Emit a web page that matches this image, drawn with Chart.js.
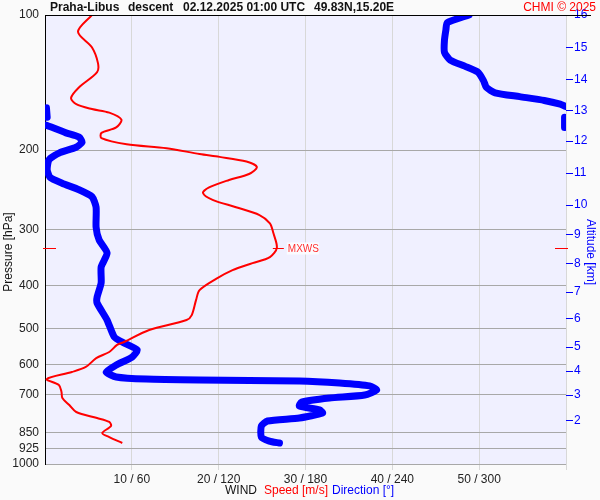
<!DOCTYPE html>
<html>
<head>
<meta charset="utf-8">
<script src="https://cdn.jsdelivr.net/npm/chart.js@4.4.1/dist/chart.umd.min.js"></script>
<style>
    html, body { margin: 0; padding: 0; background: #fafafa; }
</style>
</head>
<body>
<canvas id="windProfile" width="600" height="500"></canvas>
<script>
// wind speed profile (m/s) against pressure (hPa)
const speedPressure = [100, 109, 118, 128, 134, 145, 153, 158, 162, 165, 171, 178, 183, 188, 194, 198, 204, 207, 212, 218,
    226, 233, 242, 249, 258, 268, 279, 291, 306, 330, 346, 357, 370, 387, 410, 431, 466, 478, 503, 535,
    543, 563, 581, 608, 624, 647, 667, 691, 713, 739, 766, 790, 806, 823, 853, 871, 898];
const speedValues = [5.4, 3.8, 5.4, 6.1, 6.0, 3.9, 3.0, 3.6, 5.4, 7.4, 8.8, 8.2, 6.5, 6.5, 9.4, 14.0, 17.8, 20.1, 23.2, 24.4,
    23.5, 21.2, 18.9, 18.2, 19.3, 22.0, 24.7, 25.9, 26.3, 26.7, 25.9, 23.9, 21.6, 19.7, 17.8, 17.4, 16.9, 16.3, 12.0, 9.1,
    8.3, 7.4, 5.9, 4.7, 3.1, 0.2, 1.6, 1.9, 2.0, 2.8, 3.6, 6.0, 7.4, 7.6, 6.6, 7.4, 8.9];

// wind direction profile (deg), null = break where it wraps 360 -> 0
const dirPressure = [100, 104, 108, 114, 121, 126, 130, 134, 140, 145, 149, 152, 155, 158, 160, null,
    161, 169, null,
    169, 178, null,
    176, 183, 187, 192, 197, 203, 210, 221, 230, 237, 245, 254, 268, 297, 317, 339, 364, 395, 425, 438,
    478, 521, 535, 557, 578, 602, 624, 640, 647, 650, 653, 660, 670, 684, 702, 713, 728, 743, 758, 770,
    790, 802, 823, 871, 889, 898];
const dirValues = [293, 278, 277, 276, 276, 280, 290, 299, 303, 305, 311, 328, 345, 356, 360, null,
    1, 1.5, null,
    359, 359, null,
    1, 14.5, 23.5, 25.6, 21.5, 9.7, 2.8, 1.5, 3.5, 11.8, 23.5, 32.5, 35.3, 35.3, 37.4, 42.9, 38.8, 38.8, 36, 36,
    42.9, 47.8, 53.3, 63.7, 60.2, 49.2, 42.2, 49.2, 69.9, 106.6, 175.8, 203.5, 224.3, 229.2, 220.9, 196.6, 177.2, 175.8, 189.7, 191.8,
    175.8, 153.7, 149.5, 149.5, 155, 162];

// axes
const pressureTicks = [100, 200, 300, 400, 500, 600, 700, 850, 925, 1000];
const speedTicks = [10, 20, 30, 40, 50, 60];
const dirTicks = [60, 120, 180, 240, 300, 360];
const altitudeKm = [2, 3, 4, 5, 6, 7, 8, 9, 10, 11, 12, 13, 14, 15, 16];
const altitudePressure = [802, 702, 621, 549, 475, 414, 358, 309, 265, 225, 191, 163, 139, 118, 100];

// max wind
const maxWindSpeed = 26.7;
const maxWindPressure = 330;

const toPoints = (xs, ps) => xs.map((v, i) => ({ x: v, y: ps[i] }));

const decorPlugin = {
    id: 'decor',
    beforeDraw: (chart) => {
        const { ctx, chartArea: a } = chart;
        ctx.save();
        ctx.fillStyle = '#fafafa';
        ctx.fillRect(0, 0, chart.width, chart.height);
        ctx.fillStyle = '#f0f0ff';
        ctx.fillRect(a.left, a.top, a.right - a.left, a.bottom - a.top);
        ctx.restore();
    },
    afterDraw: (chart) => {
        const { ctx, chartArea: a } = chart;
        ctx.save();
        // top line
        ctx.strokeStyle = '#000';
        ctx.lineWidth = 1;
        ctx.beginPath();
        ctx.moveTo(a.left, a.top + 0.5);
        ctx.lineTo(591, a.top + 0.5);
        ctx.stroke();

        // header
        ctx.textBaseline = 'middle';
        ctx.font = 'bold 12px "Liberation Sans", Arial, sans-serif';
        ctx.fillStyle = '#111';
        ctx.fillText('Praha-Libus', 50, 8);
        ctx.fillText('descent', 128, 8);
        ctx.fillText('02.12.2025 01:00 UTC', 183, 8);
        ctx.fillText('49.83N,15.20E', 314, 8);
        ctx.font = '12px "Liberation Sans", Arial, sans-serif';
        ctx.fillStyle = '#ff0000';
        ctx.textAlign = 'right';
        ctx.fillText('CHMI \u00a9 2025', 596, 8);

        // bottom legend
        ctx.textAlign = 'left';
        ctx.fillStyle = '#111';
        ctx.fillText('WIND', 225, 491);
        ctx.fillStyle = '#ff0000';
        ctx.fillText('Speed [m/s]', 264, 491);
        ctx.fillStyle = '#0000ff';
        ctx.fillText('Direction [\u00b0]', 332, 491);

        // axis titles
        ctx.textAlign = 'center';
        ctx.save();
        ctx.translate(9, 252);
        ctx.rotate(-Math.PI / 2);
        ctx.fillStyle = '#111';
        ctx.fillText('Pressure [hPa]', 0, 0);
        ctx.restore();
        ctx.save();
        ctx.translate(590, 252);
        ctx.rotate(Math.PI / 2);
        ctx.fillStyle = '#0000ff';
        ctx.fillText('Altitude [km]', 0, 0);
        ctx.restore();

        // MXWS marker
        const my = Math.round(chart.scales.y.getPixelForValue(maxWindPressure)) + 0.5;
        const mx = chart.scales.x.getPixelForValue(maxWindSpeed);
        ctx.strokeStyle = '#ff0000';
        ctx.beginPath();
        ctx.moveTo(a.left - 2, my); ctx.lineTo(a.left + 11, my);
        ctx.moveTo(a.right - 11, my); ctx.lineTo(a.right + 2, my);
        ctx.moveTo(mx - 4, my); ctx.lineTo(mx + 7, my);
        ctx.stroke();
        ctx.fillStyle = '#fbfbff';
        ctx.fillRect(mx + 10, my - 6, 32, 12);
        ctx.font = '10px "Liberation Sans", Arial, sans-serif';
        ctx.fillStyle = '#ff3030';
        ctx.textAlign = 'left';
        ctx.fillText('MXWS', mx + 11, my + 0.5);
        ctx.restore();
    }
};

new Chart(document.getElementById('windProfile').getContext('2d'), {
    type: 'scatter',
    data: {
        datasets: [
            {
                label: 'Speed',
                data: toPoints(speedValues, speedPressure),
                xAxisID: 'x',
                yAxisID: 'y',
                showLine: true,
                borderColor: '#ff0000',
                borderWidth: 2,
                pointRadius: 0,
                tension: 0.3,
                borderJoinStyle: 'round',
                clip: 0
            },
            {
                label: 'Direction',
                data: toPoints(dirValues, dirPressure),
                xAxisID: 'xDir',
                yAxisID: 'y',
                showLine: true,
                spanGaps: false,
                borderColor: '#0000ff',
                borderWidth: 7,
                pointRadius: 0,
                tension: 0.2,
                borderJoinStyle: 'round',
                borderCapStyle: 'round',
                clip: 0
            }
        ]
    },
    options: {
        responsive: false,
        animation: false,
        layout: { padding: { top: 15, left: 0, right: 0, bottom: 0 } },
        plugins: {
            legend: { display: false },
            tooltip: { enabled: false }
        },
        scales: {
            x: {
                type: 'linear',
                position: 'bottom',
                min: 0,
                max: 60,
                afterBuildTicks: (scale) => { scale.ticks = speedTicks.map((v) => ({ value: v })); },
                afterFit: (scale) => { scale.height = 36; },
                ticks: {
                    autoSkip: false,
                    maxRotation: 0,
                    padding: 2,
                    color: '#222',
                    font: { family: '"Liberation Sans", Arial, sans-serif', size: 12 },
                    callback: (v, i) => (i < speedTicks.length - 1 ? speedTicks[i] + ' / ' + dirTicks[i] : '')
                },
                grid: { color: '#d8d8d8', tickLength: 6 },
                border: { display: false }
            },
            xDir: {
                type: 'linear',
                position: 'bottom',
                min: 0,
                max: 360,
                display: false
            },
            y: {
                type: 'logarithmic',
                position: 'left',
                min: 100,
                max: 1000,
                reverse: true,
                afterBuildTicks: (scale) => { scale.ticks = pressureTicks.map((v) => ({ value: v })); },
                afterFit: (scale) => { scale.width = 45; },
                ticks: {
                    autoSkip: false,
                    padding: 6,
                    color: '#222',
                    font: { family: '"Liberation Sans", Arial, sans-serif', size: 12 },
                    callback: (v) => String(v)
                },
                grid: {
                    drawTicks: false,
                    color: (c) => (c.tick && c.tick.value === 100 ? 'rgba(0,0,0,0)' : '#a8a8a8')
                },
                border: { display: true, color: '#000', width: 1 }
            },
            yAlt: {
                type: 'logarithmic',
                position: 'right',
                min: 100,
                max: 1000,
                reverse: true,
                afterBuildTicks: (scale) => { scale.ticks = altitudePressure.map((v) => ({ value: v })); },
                afterFit: (scale) => { scale.width = 34; },
                ticks: {
                    autoSkip: false,
                    padding: 1,
                    color: '#0000ff',
                    font: { family: '"Liberation Sans", Arial, sans-serif', size: 12 },
                    callback: (v, i) => String(altitudeKm[i])
                },
                grid: { drawOnChartArea: false, color: '#0000ff', tickLength: 7 },
                border: { display: false }
            }
        }
    },
    plugins: [decorPlugin]
});
</script>
</body>
</html>
